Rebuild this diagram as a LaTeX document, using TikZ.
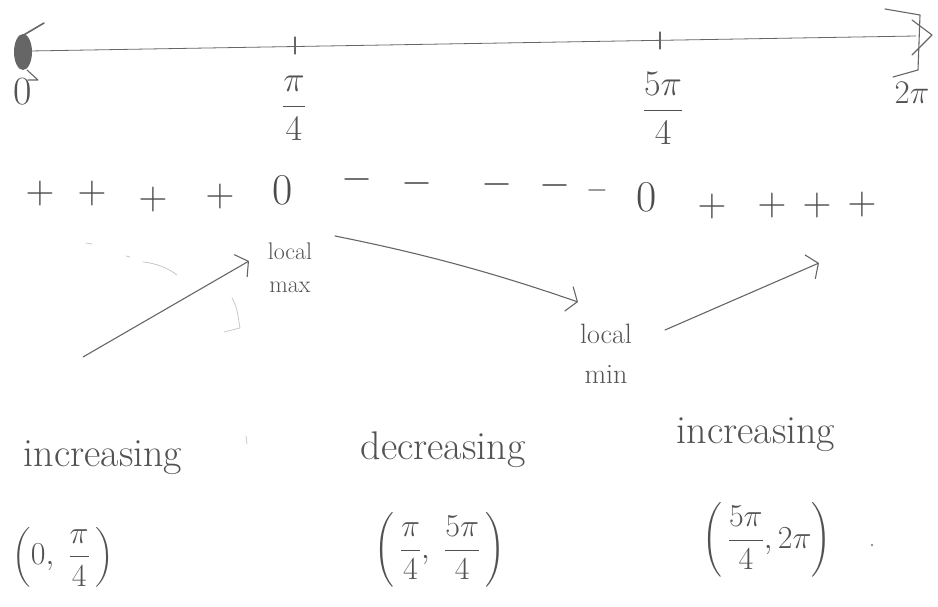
\RequirePackage{fix-cm}
\documentclass[tikz,border=0pt]{standalone}
\usepackage{amsmath}
\usetikzlibrary{arrows.meta}
\begin{document}
\begin{tikzpicture}[x=1pt,y=-1pt,
  ink/.style={draw=black!60, line width=1.1pt, line cap=round, line join=round},
  faint/.style={draw=black!22, line width=0.8pt, line cap=round},
  head/.style={-{Straight Barb[length=9pt,width=26pt,line width=1.1pt]}},
  lbl/.style={text=black!68, inner sep=0pt, font=\fontsize{36}{40}\selectfont},
  small/.style={text=black!68, inner sep=0pt, align=center},
  sgn/.style={text=black!70, inner sep=0pt, font=\fontsize{40}{44}\selectfont},
  zer/.style={text=black!70, inner sep=0pt, font=\fontsize{44}{48}\selectfont},
  word/.style={text=black!68, inner sep=0pt, font=\fontsize{40}{44}\selectfont},
  intv/.style={text=black!68, inner sep=0pt, font=\fontsize{32}{36}\selectfont}]
\useasboundingbox (0,0) rectangle (938,607);

% number line from 0 to 2pi
\coordinate (L) at (30,51);
\coordinate (R) at (916,36);
\draw[ink, line width=0.8pt] (L) -- (R);
\coordinate (t1) at (295,46);
\coordinate (t2) at (660,41);
\draw[ink] ([yshift=-8]t1) -- ([yshift=9]t1);
\draw[ink] ([yshift=-8]t2) -- ([yshift=9]t2);

% closed left end
\fill[black!60] (23,52) ellipse (9 and 18);
\draw[ink, line width=1.6pt] (22,36) -- (44,23);
\draw[ink] (27,70) -- (38,80) -- (28,80);
\node[lbl, font=\fontsize{40}{44}\selectfont] (zero) at (23,92) {0};

% open right end
\draw[ink] (885,9) -- (920,15) -- (918,70) -- (893,77);
\draw[ink] (912,20) -- (932,35) -- (912,55);

% tick labels
\node[lbl] (q1) at (294,108) {$\dfrac{\pi}{4}$};
\node[lbl] (q5) at (663,108) {$\dfrac{5\pi}{4}$};
\node[lbl, font=\fontsize{33}{36}\selectfont] (tp) at (912,93) {$2\pi$};

% sign chart of the derivative
\node[sgn] (p1) at (40,194) {$+$};
\node[sgn] (p2) at (92,194) {$+$};
\node[sgn] (p3) at (153,200) {$+$};
\node[sgn] (p4) at (220,197) {$+$};
\node[zer] (z1) at (283,190) {0};
\node[sgn] (m1) at (357,180) {$-$};
\node[sgn] (m2) at (417,184) {$-$};
\node[sgn] (m3) at (497,185) {$-$};
\node[sgn] (m4) at (555,186) {$-$};
\node[sgn, font=\fontsize{28}{32}\selectfont] (m5) at (597,190) {$-$};
\node[zer] (z2) at (647,197) {0};
\node[sgn] (r1) at (712,207) {$+$};
\node[sgn] (r2) at (772,206) {$+$};
\node[sgn] (r3) at (817,206) {$+$};
\node[sgn] (r4) at (862,205) {$+$};

% extrema labels
\node[small, font=\fontsize{24}{33}\selectfont] (lmax) at (290,268) {local\\max};
\node[small, font=\fontsize{28}{40}\selectfont] (lmin) at (606,354) {local\\min};

% behaviour arrows
\coordinate (a1s) at (83,357);
\coordinate (a1e) at (249,261);
\coordinate (a2s) at (335,236);
\coordinate (a2e) at (578,302);
\coordinate (a3s) at (665,330);
\coordinate (a3e) at (819,263);
\draw[ink, head] (a1s) -- (a1e);
\draw[ink, head] (a2s) .. controls (430,255) and (500,275) .. (a2e);
\draw[ink, head] (a3s) -- (a3e);

% stray pencil marks
\draw[faint] (143,262) .. controls (155,263) and (168,268) .. (177,275);
\draw[faint] (86,243) -- (92,244);
\draw[faint] (126,256) -- (130,257);
\draw[faint] (232,298) .. controls (238,308) and (238,318) .. (240,328) -- (224,332);
\draw[faint] (246,436) -- (247,444);

% monotonicity intervals
\node[word] (w1) at (103,458) {increasing};
\node[word] (w2) at (443,450) {decreasing};
\node[word] (w3) at (756,435) {increasing};
\node[intv] (i1) at (63,557) {$\left(0,\;\dfrac{\pi}{4}\,\right)$};
\node[intv] (i2) at (440,550) {$\left(\,\dfrac{\pi}{4},\;\dfrac{5\pi}{4}\,\right)$};
\node[intv] (i3) at (767,540) {$\left(\,\dfrac{5\pi}{4},2\pi\right)$};
\fill[black!45] (872,545) circle (1.3pt);
\end{tikzpicture}
\end{document}
